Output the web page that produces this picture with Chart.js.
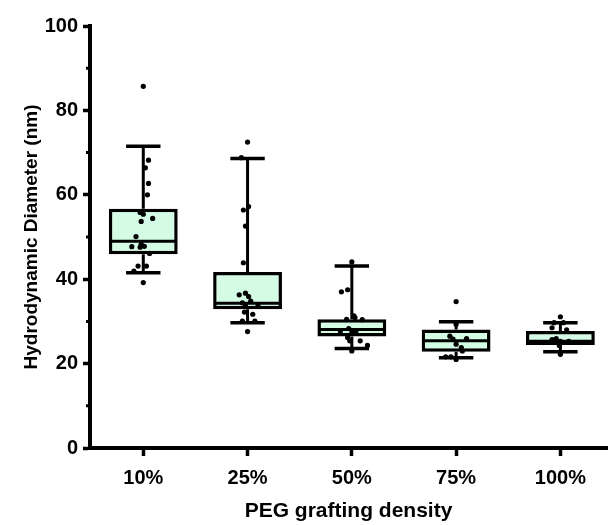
<!DOCTYPE html>
<html>
<head>
<meta charset="utf-8">
<script src="https://cdn.jsdelivr.net/npm/chart.js@4"></script>
<style>
  html, body { margin: 0; padding: 0; background: #fff; }
  #wrap { width: 611px; height: 525px; }
</style>
</head>
<body>
<div id="wrap"><canvas id="boxChart"></canvas></div>
<script>
const categories = ['10%', '25%', '50%', '75%', '100%'];

// five-number summary per grafting density
const whiskerLow = [41.5, 29.7, 23.6, 21.4, 22.8];
const q1 = [45.9, 32.9, 26.4, 22.8, 24.4];
const median = [49.0, 34.3, 28.1, 25.4, 25.3];
const q3 = [56.7, 41.7, 30.5, 28.1, 27.7];
const whiskerHigh = [71.5, 68.6, 43.1, 29.9, 29.7];

// individual measurements (nm) and the sideways jitter used to plot them
const points10 = [85.7, 68.2, 66.4, 62.7, 60.0, 55.8, 55.4, 54.4, 53.7, 50.1, 48.3, 47.7, 47.6, 47.8, 46.1, 43.1, 43.1, 41.9, 39.2];
const jitter10 = [0, .05, .02, .05, .04, -.03, 0, .09, -.02, -.07, -.02, -.11, -.03, .01, .06, -.05, .03, -.09, 0];
const points25 = [72.5, 68.8, 57.2, 56.4, 52.6, 43.9, 36.3, 36.7, 35.9, 34.8, 34.4, 33.7, 33.7, 32.2, 31.7, 30.1, 30.1, 27.6];
const jitter25 = [0, -.06, .01, -.04, -.02, -.04, -.08, -.02, .01, .03, -.05, -.02, .1, -.03, .05, -.05, .07, 0];
const points50 = [44.1, 37.0, 37.5, 31.3, 30.9, 30.5, 30.4, 28.3, 27.7, 27.7, 27.3, 26.2, 25.4, 25.4, 24.3, 23.0];
const jitter50 = [0, -.1, -.04, .02, .03, -.05, .1, -.03, -.11, .04, 0, -.04, -.02, .08, .15, 0];
const points75 = [34.7, 29.3, 26.5, 25.9, 25.8, 24.6, 23.8, 23.0, 21.6, 21.0, 21.6];
const jitter75 = [0, 0, -.06, .1, -.03, 0, .05, .06, -.1, 0, -.05];
const points100 = [31.1, 29.7, 29.7, 28.5, 28.0, 25.9, 25.3, 25.3, 25.7, 24.3, 22.2];
const jitter100 = [0, -.06, .03, -.08, .06, -.04, 0, .08, -.08, -.01, 0];

const groups = [
  [points10, jitter10],
  [points25, jitter25],
  [points50, jitter50],
  [points75, jitter75],
  [points100, jitter100]
];

const scatterData = [];
groups.forEach(([vals, jit], g) => {
  vals.forEach((v, k) => scatterData.push({ x: g + jit[k], y: v }));
});

const boxData = categories.map((c, i) => ({ x: i, y: [q1[i], q3[i]] }));

const fontFamily = "'Liberation Sans', Arial, sans-serif";

// whiskers, caps, medians and the minor y ticks
const whiskerPlugin = {
  id: 'whiskers',
  afterDatasetDraw(chart, args) {
    if (args.index !== 0) return;
    const ctx = chart.ctx;
    const y = chart.scales.y;
    ctx.save();
    ctx.strokeStyle = '#000';
    args.meta.data.forEach((bar, i) => {
      const cx = bar.x;
      const half = bar.width / 2;
      const capHalf = half * 0.5;
      const yHi = y.getPixelForValue(whiskerHigh[i]);
      const yLo = y.getPixelForValue(whiskerLow[i]);
      const yQ3 = y.getPixelForValue(q3[i]);
      const yQ1 = y.getPixelForValue(q1[i]);
      const yMed = y.getPixelForValue(median[i]);

      ctx.lineWidth = 3;
      ctx.beginPath();
      ctx.moveTo(cx, yHi); ctx.lineTo(cx, yQ3);
      ctx.moveTo(cx, yQ1); ctx.lineTo(cx, yLo);
      ctx.stroke();

      ctx.lineWidth = 3.5;
      ctx.beginPath();
      ctx.moveTo(cx - capHalf, yHi); ctx.lineTo(cx + capHalf, yHi);
      ctx.moveTo(cx - capHalf, yLo); ctx.lineTo(cx + capHalf, yLo);
      ctx.stroke();

      ctx.lineWidth = 3;
      ctx.beginPath();
      ctx.moveTo(cx - half + 2, yMed); ctx.lineTo(cx + half - 2, yMed);
      ctx.stroke();
    });
    ctx.restore();
  },
  afterDraw(chart) {
    const ctx = chart.ctx;
    const y = chart.scales.y;
    const left = chart.chartArea.left;
    const ticks = y.ticks;
    ctx.save();
    ctx.strokeStyle = '#000';
    ctx.lineWidth = 3;
    ctx.beginPath();
    for (let i = 0; i < ticks.length - 1; i++) {
      const py = y.getPixelForValue((ticks[i].value + ticks[i + 1].value) / 2);
      ctx.moveTo(left - 4, py);
      ctx.lineTo(left, py);
    }
    ctx.stroke();
    ctx.restore();
  }
};

new Chart(document.getElementById('boxChart').getContext('2d'), {
  type: 'bar',
  data: {
    datasets: [
      {
        type: 'bar',
        data: boxData,
        backgroundColor: 'rgb(212, 252, 229)',
        borderColor: '#000',
        borderWidth: 3.5,
        borderSkipped: false,
        barPercentage: 0.66,
        categoryPercentage: 1,
        order: 1
      },
      {
        type: 'scatter',
        data: scatterData,
        pointRadius: 2.6,
        pointBackgroundColor: '#000',
        pointBorderWidth: 0,
        order: 0
      }
    ]
  },
  options: {
    responsive: true,
    maintainAspectRatio: false,
    animation: false,
    layout: { padding: { top: 26, right: 0, left: 0, bottom: 0 } },
    plugins: {
      legend: { display: false },
      tooltip: { enabled: false }
    },
    scales: {
      x: {
        type: 'linear',
        min: -0.511,
        max: 4.447,
        offset: false,
        afterBuildTicks: (scale) => {
          scale.ticks = categories.map((c, i) => ({ value: i }));
        },
        afterFit: (scale) => { scale.height = 77; },
        grid: { offset: false, drawOnChartArea: false, tickLength: 8, tickWidth: 3.5, tickColor: '#000' },
        border: { width: 4, color: '#000' },
        ticks: {
          padding: 10,
          color: '#000',
          font: { family: fontFamily, size: 20, weight: 'bold' },
          callback: (value) => categories[value]
        },
        title: {
          display: true,
          text: 'PEG grafting density',
          color: '#000',
          padding: { top: 0, bottom: 1 },
          font: { family: fontFamily, size: 21, weight: 'bold' }
        }
      },
      y: {
        min: 0,
        max: 100,
        afterFit: (scale) => { scale.width = 90; },
        grid: { drawOnChartArea: false, tickLength: 7, tickWidth: 3.5, tickColor: '#000' },
        border: { width: 4, color: '#000' },
        ticks: {
          stepSize: 20,
          padding: 5,
          color: '#000',
          font: { family: fontFamily, size: 20, weight: 'bold' }
        },
        title: {
          display: true,
          text: 'Hydrodynamic Diameter (nm)',
          color: '#000',
          padding: { top: 20, bottom: 0 },
          font: { family: fontFamily, size: 19, weight: 'bold' }
        }
      }
    }
  },
  plugins: [whiskerPlugin]
});
</script>
</body>
</html>
